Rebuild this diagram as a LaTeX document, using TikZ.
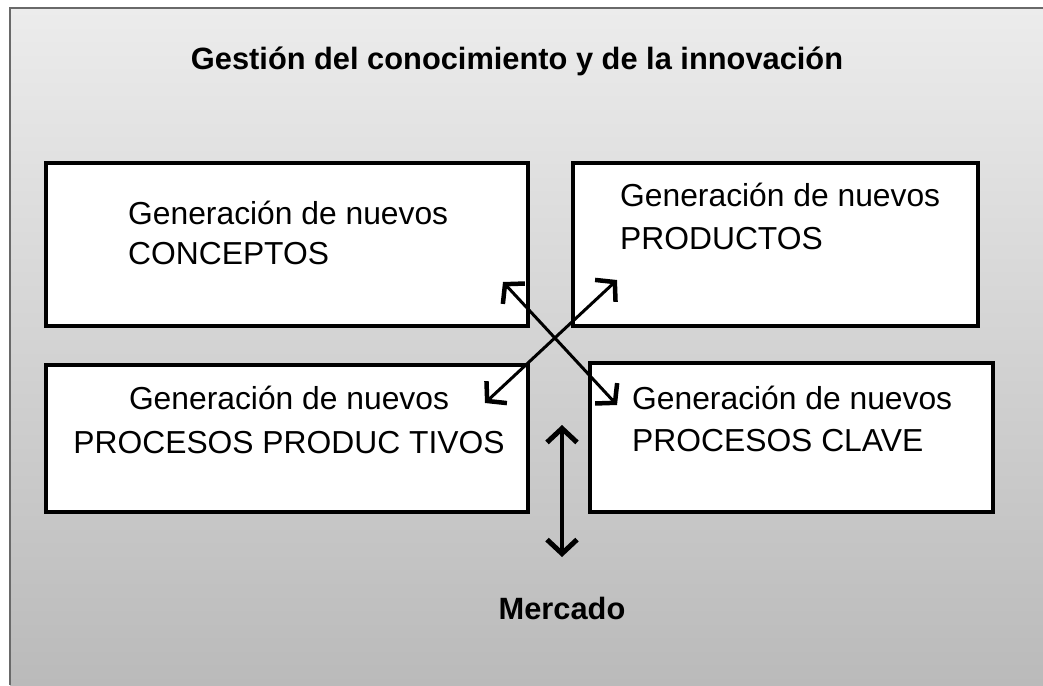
\documentclass[tikz,border=0pt]{standalone}
\usepackage{fontspec}
\setmainfont{Liberation Sans}
\usetikzlibrary{arrows.meta}
\definecolor{gtop}{RGB}{236,236,236}
\definecolor{gbot}{RGB}{186,186,186}
\definecolor{frameline}{RGB}{105,105,105}
\begin{document}
\begin{tikzpicture}[x=1pt,y=-1pt,
  box/.style={draw=black, fill=white, line width=4pt, inner sep=0pt},
  txt/.style={font=\fontsize{31.8}{36}\selectfont, inner sep=0pt, anchor=base west},
  ttl/.style={font=\fontsize{30.8}{36}\selectfont\bfseries, inner sep=0pt, anchor=base},
  dbl/.style={line width=3pt, {Straight Barb[length=13pt,width=30pt,line width=4.5pt]}-{Straight Barb[length=13pt,width=30pt,line width=4.5pt]}},
  vdbl/.style={line width=4pt, {Straight Barb[length=14pt,width=30pt,line width=5pt]}-{Straight Barb[length=14pt,width=30pt,line width=5pt]}}
]
\useasboundingbox (0,0) rectangle (1043,685);
\fill[white] (0,0) rectangle (1043,685);
\shade[top color=gtop, bottom color=gbot] (10,8) rectangle (1043,685);
\draw[frameline, line width=2pt] (10,685) -- (10,8) -- (1043,8);

\node[ttl] (title) at (517,69) {Gestión del conocimiento y de la innovación};

\node[box, minimum width=482pt, minimum height=163pt] (b1) at (286.5,244) {};
\node[box, minimum width=405pt, minimum height=163pt] (b2) at (775.5,244) {};
\node[box, minimum width=482pt, minimum height=147pt] (b3) at (286.5,438.5) {};
\node[box, minimum width=403pt, minimum height=149pt] (b4) at (791.5,437.5) {};

\node[txt] (t1a) at (128,224) {Generación de nuevos};
\node[txt] (t1b) at (128,264) {CONCEPTOS};
\node[txt] (t2a) at (620,206) {Generación de nuevos};
\node[txt] (t2b) at (620,249) {PRODUCTOS};
\node[txt, anchor=base] (t3a) at (289,409) {Generación de nuevos};
\node[txt, anchor=base] (t3b) at (289,453) {PROCESOS PRODUC TIVOS};
\node[txt] (t4a) at (632,409) {Generación de nuevos};
\node[txt] (t4b) at (632,451) {PROCESOS CLAVE};

\node[ttl] (mercado) at (562,619) {Mercado};

\coordinate (nw) at (503,282);
\coordinate (se) at (617,405);
\coordinate (ne) at (617,280);
\coordinate (sw) at (485,403);
\coordinate (vt) at (562,425);
\coordinate (vb) at (562,557);
\draw[dbl] (nw) -- (se);
\draw[dbl] (ne) -- (sw);
\draw[vdbl] (vt) -- (vb);
\end{tikzpicture}
\end{document}
